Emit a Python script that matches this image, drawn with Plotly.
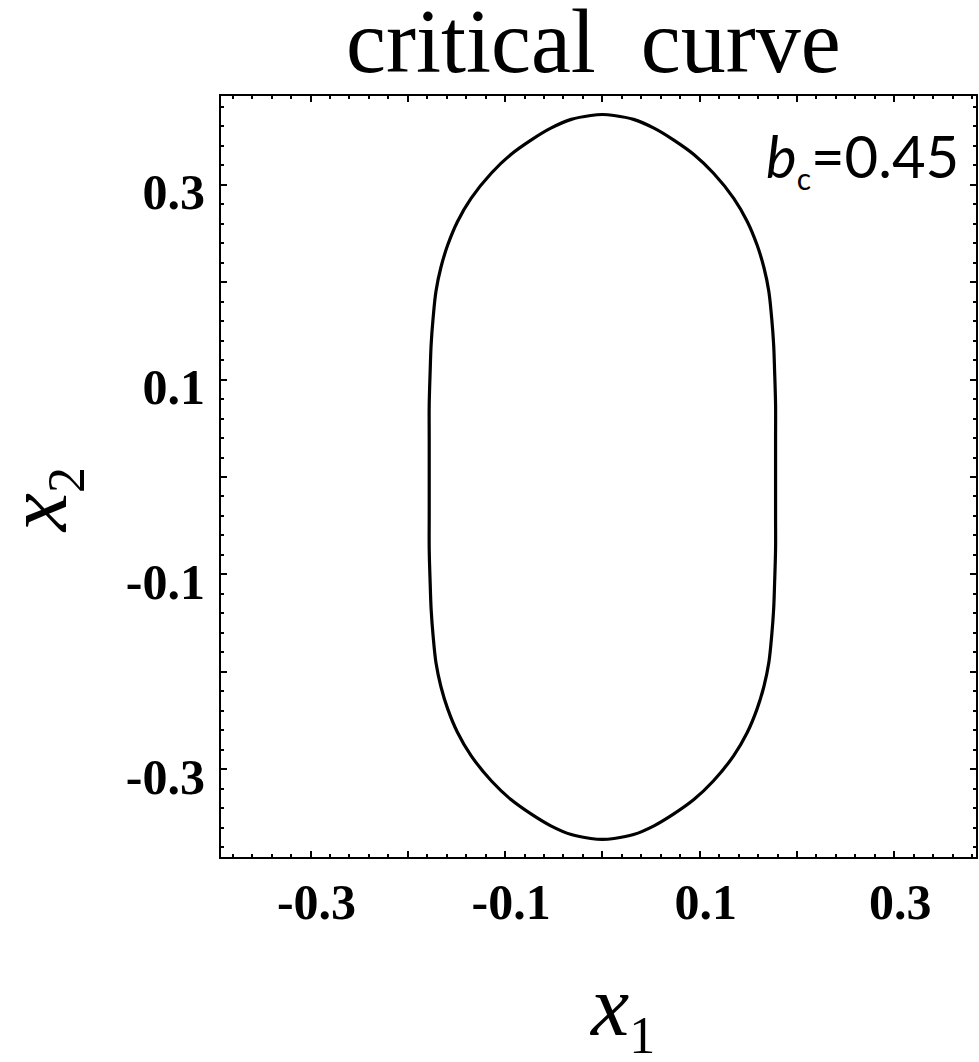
import plotly.graph_objects as go

# Critical curve points (x1, x2), traced clockwise from the top
curve_x1 = [0.000, 0.012, 0.032, 0.053, 0.073, 0.094, 0.114, 0.135, 0.149, 0.159, 0.166, 0.171, 0.174, 0.176, 0.177, 0.178, 0.178, 0.178,
            0.178, 0.178, 0.177, 0.176, 0.174, 0.171, 0.166, 0.159, 0.149, 0.135, 0.114, 0.094, 0.073, 0.053, 0.032, 0.012, 0.000,
            -0.012, -0.032, -0.053, -0.073, -0.094, -0.114, -0.135, -0.149, -0.159, -0.166, -0.171, -0.174, -0.176, -0.177, -0.178, -0.178, -0.178,
            -0.178, -0.178, -0.177, -0.176, -0.174, -0.171, -0.166, -0.159, -0.149, -0.135, -0.114, -0.094, -0.073, -0.053, -0.032, -0.012, 0.000]
curve_x2 = [0.372, 0.371, 0.367, 0.358, 0.346, 0.331, 0.312, 0.286, 0.262, 0.238, 0.215, 0.191, 0.163, 0.136, 0.109, 0.074, 0.040, 0.000,
            -0.040, -0.074, -0.109, -0.136, -0.163, -0.191, -0.215, -0.238, -0.262, -0.286, -0.312, -0.331, -0.346, -0.358, -0.367, -0.371, -0.372,
            -0.371, -0.367, -0.358, -0.346, -0.331, -0.312, -0.286, -0.262, -0.238, -0.215, -0.191, -0.163, -0.136, -0.109, -0.074, -0.040, 0.000,
            0.040, 0.074, 0.109, 0.136, 0.163, 0.191, 0.215, 0.238, 0.262, 0.286, 0.312, 0.331, 0.346, 0.358, 0.367, 0.371, 0.372]

tick_vals = [-0.3, -0.2, -0.1, 0.0, 0.1, 0.2, 0.3]
tick_text = ["-0.3", "", "-0.1", "", "0.1", "", "0.3"]

W, H = 979, 1062
L, R, T, B = 221, 1, 96, 205

fig = go.Figure()
fig.add_trace(go.Scatter(x=curve_x1, y=curve_x2, mode="lines", line_shape="spline",
                         line=dict(color="black", width=3.2), showlegend=False, hoverinfo="skip"))

axis_common = dict(
    tickvals=tick_vals, ticktext=tick_text, ticks="inside", ticklen=6, tickwidth=2,
    tickcolor="black", showline=True, linecolor="black", linewidth=2, mirror="ticks",
    showgrid=False, zeroline=False,
    minor=dict(ticks="inside", dtick=0.02, ticklen=3, tickwidth=1.5, tickcolor="black"),
    tickfont=dict(family="Liberation Serif", size=50, color="black", weight="bold"),
)

fig.update_xaxes(range=[-0.392, 0.384], ticklabelshift=6, **axis_common)
fig.update_yaxes(range=[-0.390, 0.391], ticklabelstandoff=4, ticklabelshift=7, **axis_common)

fig.update_layout(
    width=W, height=H, margin=dict(l=L, r=R, t=T, b=B),
    paper_bgcolor="white", plot_bgcolor="white",
    annotations=[
        dict(text="critical  curve", x=0.494, y=1.072, xref="paper", yref="paper",
             xanchor="center", yanchor="middle", showarrow=False,
             font=dict(family="Liberation Serif", size=90, color="black")),
        dict(text="<i>x</i><sub><span style='font-size:52px'>1</span></sub>", x=0.531, y=-0.203,
             xref="paper", yref="paper", xanchor="center", yanchor="middle", showarrow=False,
             font=dict(family="Liberation Serif", size=86, color="black")),
        dict(text="<i>x</i><sub><span style='font-size:52px'>2</span></sub>", x=-0.237, y=0.469,
             xref="paper", yref="paper", xanchor="center", yanchor="middle", showarrow=False,
             textangle=-90, font=dict(family="Liberation Serif", size=86, color="black")),
        dict(text="<i>b</i><sub><span style='font-size:30px'>c</span></sub>=0.45", x=0.98, y=0.918,
             xref="paper", yref="paper", xanchor="right", yanchor="middle", showarrow=False,
             font=dict(family="Lato", size=58, color="black")),
    ],
)

fig.write_html("out.html", config={"displayModeBar": False},
               post_script="document.body.style.margin='0';")
